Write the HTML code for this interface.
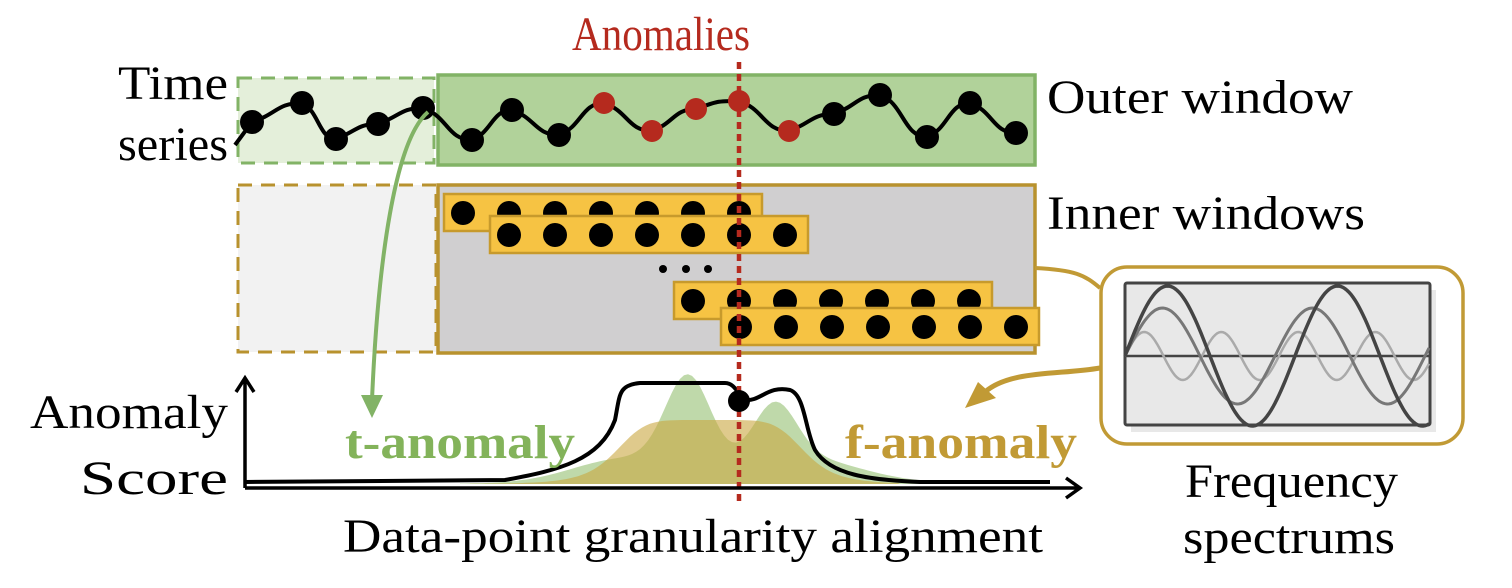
<!DOCTYPE html>
<html><head><meta charset="utf-8"><style>
html,body{margin:0;padding:0;background:#fff;}
svg{display:block;font-family:"Liberation Serif",serif;}
</style></head><body>
<svg id="fig" width="1512" height="588" viewBox="0 0 1512 588">
<rect x="238" y="78" width="196" height="85" fill="#e4efda" stroke="#82b366" stroke-width="3" stroke-dasharray="14 9"/>
<rect x="438" y="75" width="597" height="90" fill="#b1d29a" stroke="#82b366" stroke-width="3.5"/>
<rect x="238" y="185" width="198" height="167" fill="#f2f2f2" stroke="#b8922e" stroke-width="3" stroke-dasharray="14 9"/>
<rect x="438" y="185" width="597" height="168" fill="#d0cfd0" stroke="#b8922e" stroke-width="3.5"/>
<g id="rows"></g>
<g><circle cx="663" cy="269" r="4"/><circle cx="686" cy="269" r="4"/><circle cx="708" cy="269" r="4"/></g>
<path id="ts" fill="none" stroke="#000" stroke-width="4"/>
<g id="tsdots"></g>
<path id="greenArea" fill="#a9cc8e" opacity="0.75"/>
<path id="tanArea" fill="#c9a640" opacity="0.6"/>
<path d="M245,482 L505,480 C560,470 600,460 615,420 C620,395 618,385 640,383 L725,383 C735,383 738,395 745,400 C760,402 768,385 790,390 C805,395 805,430 815,450 C830,475 870,480 920,482 L1050,482" fill="none" stroke="#000" stroke-width="4"/>
<line x1="739" y1="62" x2="739" y2="505" stroke="#b52a1e" stroke-width="4.5" stroke-dasharray="7 5"/>
<circle cx="739" cy="401" r="11" fill="#000"/>
<g stroke="#000" stroke-width="3.5" fill="none">
<path d="M245,488 L245,378 M236,392 L245,378 L254,392"/>
<path d="M245,488 L1080,488 M1066,478 L1080,488 L1066,498"/>
</g>
<path d="M428,112 C395,140 378,260 372,400" fill="none" stroke="#82b366" stroke-width="4"/>
<path d="M361,395 L372,418 L383,395 Z" fill="#82b366"/>
<path d="M1035,268 C1075,270 1085,275 1100,288" fill="none" stroke="#c19a35" stroke-width="4"/>
<path d="M1100,368 C1060,375 1010,370 985,392" fill="none" stroke="#c19a35" stroke-width="5"/>
<path d="M965,408 L978,382 L996,398 Z" fill="#c19a35"/>
<rect x="1101" y="267" width="362" height="177" rx="26" fill="#fff" stroke="#c19a35" stroke-width="3.5"/>
<rect x="1131" y="290" width="305" height="142" fill="#d9d9d9" opacity="0.6"/>
<rect x="1125" y="283" width="305" height="142" fill="#e8e8e8" stroke="#444" stroke-width="3" rx="2"/>
<line x1="1125" y1="356" x2="1430" y2="356" stroke="#444" stroke-width="2.5"/>
<path id="w3" fill="none" stroke="#aaa" stroke-width="2.5"/>
<path id="w2" fill="none" stroke="#777" stroke-width="3"/>
<path id="w1" fill="none" stroke="#444" stroke-width="3.5"/>
<g font-size="48" fill="#000">
<text x="572" y="50" textLength="178" lengthAdjust="spacingAndGlyphs" fill="#b52a1e">Anomalies</text>
<text x="118" y="99" textLength="110" lengthAdjust="spacingAndGlyphs">Time</text>
<text x="118" y="160" textLength="110" lengthAdjust="spacingAndGlyphs">series</text>
<text x="1047" y="113" textLength="306" lengthAdjust="spacingAndGlyphs">Outer window</text>
<text x="1047" y="229" textLength="318" lengthAdjust="spacingAndGlyphs">Inner windows</text>
<text x="30" y="428" textLength="198" lengthAdjust="spacingAndGlyphs">Anomaly</text>
<text x="80" y="494" textLength="148" lengthAdjust="spacingAndGlyphs">Score</text>
<text x="343" y="552" textLength="700" lengthAdjust="spacingAndGlyphs">Data-point granularity alignment</text>
<text x="1185" y="497" textLength="213" lengthAdjust="spacingAndGlyphs">Frequency</text>
<text x="1183" y="553" textLength="212" lengthAdjust="spacingAndGlyphs">spectrums</text>
<text x="345" y="458" textLength="230" lengthAdjust="spacingAndGlyphs" font-weight="bold" fill="#83b35a">t-anomaly</text>
<text x="845" y="458" textLength="232" lengthAdjust="spacingAndGlyphs" font-weight="bold" fill="#c19a35">f-anomaly</text>
</g>
</svg>
<script>
const NS="http://www.w3.org/2000/svg";
const ptX=[252,302,336,378,423,472,512,559,604,652,696,739,789,834,880,927,970,1016];
const ptY=[122,103,139,124,108,140,110,135,103,131,109,101,131,114,95,137,103,133];
const ptRed=[0,0,0,0,0,0,0,0,1,1,1,1,1,0,0,0,0,0];
const rowStart=[463,509,693,740];
const rowY=[213,235,301,327];
const rowCount=[7,7,7,7];
let d="M235,145 L"+ptX[0]+","+ptY[0];
for(let i=1;i<ptX.length;i++){
 const x0=ptX[i-1],y0=ptY[i-1],x1=ptX[i],y1=ptY[i],mx=(x0+x1)/2;
 d+=` C${mx},${y0-(y1>y0?-8:8)} ${mx},${y1} ${x1},${y1}`;
}
document.getElementById('ts').setAttribute('d',d);
const dg=document.getElementById('tsdots');
for(let i=0;i<ptX.length;i++){
 const c=document.createElementNS(NS,'circle');
 c.setAttribute('cx',ptX[i]);c.setAttribute('cy',ptY[i]);c.setAttribute('r',ptRed[i]?11:12);
 c.setAttribute('fill',ptRed[i]?'#b52a1e':'#000');
 
 
 dg.appendChild(c);
}
const rg=document.getElementById('rows');
for(let r=0;r<rowStart.length;r++){
 const rect=document.createElementNS(NS,'rect');
 rect.setAttribute('x',rowStart[r]-19);rect.setAttribute('y',rowY[r]-19);
 rect.setAttribute('width',(rowCount[r]-1)*46+42);rect.setAttribute('height',37);
 rect.setAttribute('fill','#f6c343');rect.setAttribute('stroke','#c79a2c');rect.setAttribute('stroke-width','2.5');
 
 
 rg.appendChild(rect);
 for(let k=0;k<rowCount[r];k++){
  const c=document.createElementNS(NS,'circle');
  c.setAttribute('cx',rowStart[r]+k*46);c.setAttribute('cy',rowY[r]);c.setAttribute('r',12);
  
  
  rg.appendChild(c);
 }
}
function bump(parts){let s="M460,484";for(let x=460;x<=1000;x+=4){let y=0;for(const p of parts)y+=p[0]*Math.exp(-Math.pow((x-p[1])/p[2],2));s+=` L${x},${(484-y).toFixed(1)}`;}return s+" L1000,484 Z";}
document.getElementById('greenArea').setAttribute('d',bump([[90,688,32],[55,775,30],[20,620,70],[20,800,80],[10,730,140]]));
let t="M470,484";for(let x=470;x<=900;x+=4){const y=64/(1+Math.pow(Math.abs(x-710)/95,6));t+=` L${x},${(484-y).toFixed(1)}`;}
document.getElementById('tanArea').setAttribute('d',t+" L900,484 Z");
function wave(id,A,P){let s="";for(let x=1125;x<=1430;x+=2){s+=(s?" L":"M")+x+","+(356-A*Math.sin(2*Math.PI*(x-1125)/P)).toFixed(1);}document.getElementById(id).setAttribute('d',s);}
wave('w1',70,170);wave('w2',48,150);wave('w3',24,77);
</script>
</body></html>
